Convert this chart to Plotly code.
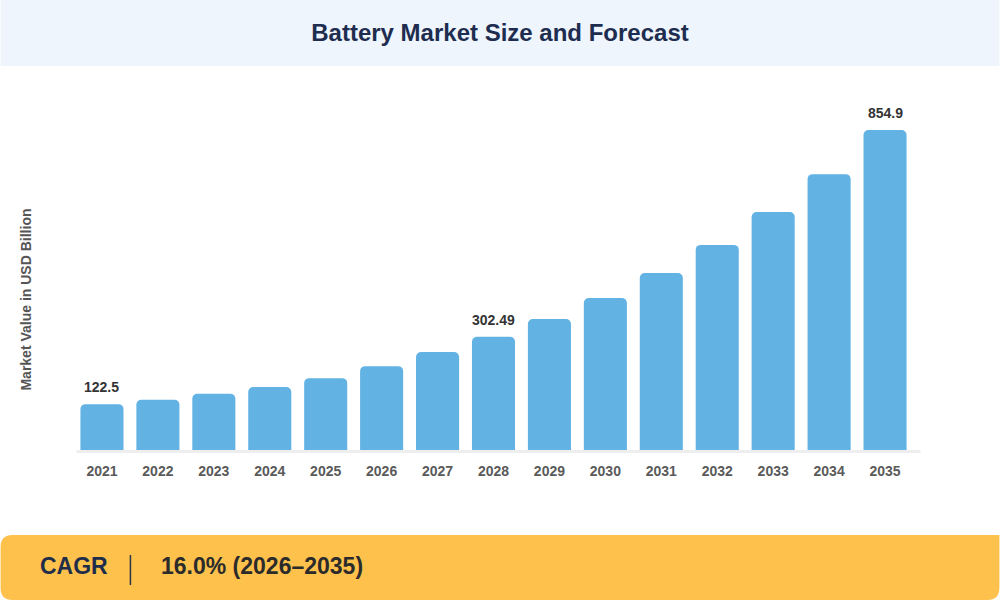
import plotly.graph_objects as go

# ---- data ----
years = ["2021", "2022", "2023", "2024", "2025", "2026", "2027", "2028",
         "2029", "2030", "2031", "2032", "2033", "2034", "2035"]
values = [122.5, 134, 150, 168, 192, 224, 262, 302.49,
          350, 406, 473, 548, 636, 737, 854.9]
labeled_years = ["2021", "2028", "2035"]
label_texts = ["122.5", "302.49", "854.9"]

title_text = "Battery Market Size and Forecast"
y_title = "Market Value in USD Billion"
cagr_label = "CAGR"
cagr_value = "16.0% (2026–2035)"

# ---- layout geometry (pixels) ----
W, H = 1000, 600
PL, PR = 73.5, 913.5      # plot area left/right
PT, PB = 100, 450         # plot area top/bottom
Y_MAX = (PB - PT) / 0.3743

FONT = "Liberation Sans, Arial, Helvetica, sans-serif"


def px_x(x):
    return (x - PL) / (PR - PL)


def px_y(y):
    return (PB - y) / (PB - PT)


fig = go.Figure()
fig.add_trace(go.Bar(
    x=years, y=values,
    marker=dict(color="#62b2e4", cornerradius=5, line=dict(width=0)),
    hoverinfo="x+y",
))

shapes = []
# top banner
shapes.append(dict(type="rect", xref="paper", yref="paper",
                   x0=px_x(0), x1=px_x(W), y0=px_y(0), y1=px_y(66),
                   fillcolor="#eef5fd", line=dict(width=0), layer="below"))


# bottom yellow band with rounded corners
def rounded_path(x0, y0, x1, y1, r_tl, r_tr, r_br, r_bl):
    def P(x, y):
        return f"{px_x(x)},{px_y(y)}"
    d = f"M {P(x0 + r_tl, y0)} L {P(x1 - r_tr, y0)} "
    d += f"Q {P(x1, y0)} {P(x1, y0 + r_tr)} " if r_tr else ""
    d += f"L {P(x1, y1 - r_br)} "
    d += f"Q {P(x1, y1)} {P(x1 - r_br, y1)} " if r_br else ""
    d += f"L {P(x0 + r_bl, y1)} "
    d += f"Q {P(x0, y1)} {P(x0, y1 - r_bl)} " if r_bl else ""
    d += f"L {P(x0, y0 + r_tl)} "
    d += f"Q {P(x0, y0)} {P(x0 + r_tl, y0)} " if r_tl else ""
    d += "Z"
    return d


shapes.append(dict(type="path", xref="paper", yref="paper",
                   path=rounded_path(0, 535, W, 600, 12, 0, 12, 12),
                   fillcolor="#fdc14c", line=dict(width=0), layer="below"))
# baseline
shapes.append(dict(type="line", xref="paper", yref="paper",
                   x0=px_x(76), x1=px_x(921), y0=px_y(451.5), y1=px_y(451.5),
                   line=dict(color="#eeeeee", width=3), layer="below"))
# separator in CAGR band
shapes.append(dict(type="line", xref="paper", yref="paper",
                   x0=px_x(130), x1=px_x(130), y0=px_y(555), y1=px_y(585),
                   line=dict(color="#2b3547", width=1.5)))

annotations = []
for yr, txt in zip(labeled_years, label_texts):
    i = years.index(yr)
    annotations.append(dict(x=i, y=values[i], xref="x", yref="y", text=txt,
                            showarrow=False, yanchor="middle", yshift=17,
                            font=dict(family=FONT, size=14, color="#333333",
                                      weight="bold")))
annotations.append(dict(x=px_x(25), y=px_y(300), xref="paper", yref="paper",
                        text=y_title, textangle=-90, showarrow=False,
                        xanchor="center", yanchor="middle",
                        font=dict(family=FONT, size=14, color="#555555",
                                  weight="bold")))
annotations.append(dict(x=px_x(37), y=px_y(566), xref="paper", yref="paper",
                        text=cagr_label, showarrow=False,
                        xanchor="left", yanchor="middle",
                        font=dict(family=FONT, size=23, color="#1e2d4a",
                                  weight="bold")))
annotations.append(dict(x=px_x(159), y=px_y(566), xref="paper", yref="paper",
                        text=cagr_value, showarrow=False,
                        xanchor="left", yanchor="middle",
                        font=dict(family=FONT, size=23, color="#2b2b2b",
                                  weight="bold")))

fig.update_layout(
    width=W, height=H,
    margin=dict(l=PL, r=W - PR, t=PT, b=H - PB, pad=0),
    paper_bgcolor="white", plot_bgcolor="white",
    showlegend=False,
    bargap=0.23,
    title=dict(text=title_text, x=0.5, xanchor="center",
               y=1 - 33 / H, yanchor="middle",
               font=dict(family=FONT, size=24, color="#1e2d4f",
                         weight="bold")),
    xaxis=dict(type="category", range=[-0.5, len(years) - 0.5],
               showgrid=False, zeroline=False,
               showline=False, ticks="outside", ticklen=8,
               tickcolor="rgba(0,0,0,0)",
               tickfont=dict(family=FONT, size=14, color="#5a5a5a",
                             weight="bold")),
    yaxis=dict(range=[0, Y_MAX], showgrid=False, zeroline=False,
               showline=False, showticklabels=False, ticks=""),
    shapes=shapes,
    annotations=annotations,
)

fig.write_html("out.html", config={"displayModeBar": False},
               post_script="document.body.style.margin='0';")
